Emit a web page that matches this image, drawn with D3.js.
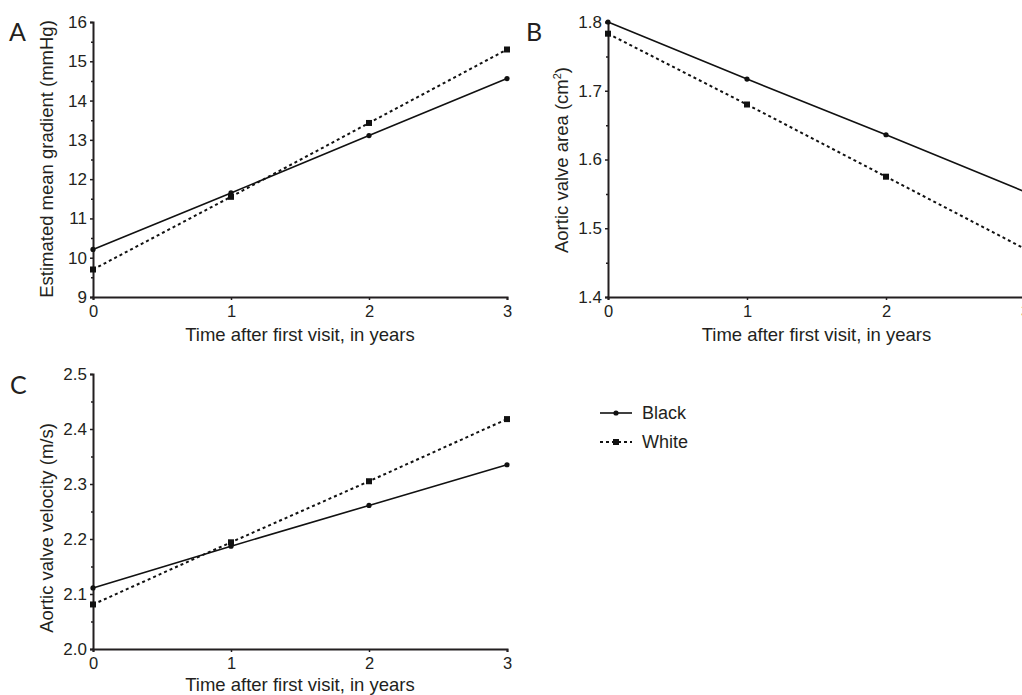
<!DOCTYPE html>
<html lang="en">
<head>
    <meta charset="UTF-8">
    <title>Aortic valve progression by race</title>
    <style>
        body { margin: 0; background: #fff; }
        svg { display: block; }
        .tick text, .axis_title, .legend_text {
            font-family: "Liberation Sans", Arial, Helvetica, sans-serif;
            fill: #231f20;
        }
        .panel_letter {
            font-family: Lato, "Open Sans", sans-serif;
            font-size: 25px;
            fill: #231f20;
        }
    </style>
    <script src="https://cdn.jsdelivr.net/npm/d3@7"></script>
</head>
<body>
<svg id="chart" width="1022" height="695"></svg>

<script>
    // values
    const years = [0, 1, 2, 3];
    const xTicks = [0, 1, 2, 3];

    const gradientBlack = [10.21, 11.65, 13.11, 14.56];
    const gradientWhite = [9.70, 11.55, 13.43, 15.30];
    const gradientTicks = [9, 10, 11, 12, 13, 14, 15, 16];

    const areaBlack = [1.800, 1.717, 1.636, 1.553];
    const areaWhite = [1.783, 1.680, 1.575, 1.470];
    const areaTicks = [1.4, 1.5, 1.6, 1.7, 1.8];

    const velocityBlack = [2.111, 2.187, 2.261, 2.335];
    const velocityWhite = [2.081, 2.194, 2.305, 2.418];
    const velocityTicks = [2.0, 2.1, 2.2, 2.3, 2.4, 2.5];

    const seriesNames = ["Black", "White"];
    const xTitle = "Time after first visit, in years";

    let svg = d3.select("#chart");

    // panel boxes (pixel layout)
    const panels = [
        {letter: "A", lx: 9, ly: 41, left: 93, right: 507, top: 22, bottom: 297, titleGap: 44,
            domain: [9, 16], ticks: gradientTicks, fmt: d3.format("d"),
            black: gradientBlack, white: gradientWhite,
            ytitle: ["Estimated mean gradient (mmHg)"], ytitleY: 159},
        {letter: "B", lx: 526, ly: 41, left: 608, right: 1025, top: 22, bottom: 297, titleGap: 44,
            domain: [1.4, 1.8], ticks: areaTicks, fmt: d3.format(".1f"),
            black: areaBlack, white: areaWhite,
            ytitle: ["Aortic valve area (cm", "2", ")"], ytitleY: 160},
        {letter: "C", lx: 10, ly: 394, left: 93, right: 507, top: 374, bottom: 649, titleGap: 42,
            domain: [2.0, 2.5], ticks: velocityTicks, fmt: d3.format(".1f"),
            black: velocityBlack, white: velocityWhite,
            ytitle: ["Aortic valve velocity (m/s)"], ytitleY: 528}
    ];

    function drawPanel(p) {
        const g = svg.append("g");
        const x = d3.scaleLinear().domain([0, 3]).range([p.left, p.right]);
        const y = d3.scaleLinear().domain(p.domain).range([p.bottom, p.top]);

        // minor ticks at half steps
        const step = p.ticks[1] - p.ticks[0];
        const minor = p.ticks.slice(0, -1).map(function (d) { return d + step / 2; });
        g.append("g")
            .attr("transform", `translate(${p.left},0)`)
            .call(d3.axisLeft(y).tickValues(minor).tickSize(2).tickFormat(""))
            .call(function (a) { a.select(".domain").remove(); })
            .selectAll("line").attr("stroke", "#231f20").attr("stroke-width", 1.5);

        const yAxis = g.append("g")
            .attr("transform", `translate(${p.left},0)`)
            .call(d3.axisLeft(y).tickValues(p.ticks).tickSize(3).tickPadding(3).tickFormat(p.fmt));
        yAxis.select(".domain").attr("stroke", "#231f20").attr("stroke-width", 2);
        yAxis.selectAll("line").attr("stroke", "#231f20").attr("stroke-width", 1.5);
        yAxis.selectAll("text").attr("font-size", 17);

        const xAxis = g.append("g")
            .attr("transform", `translate(0,${p.bottom})`)
            .call(d3.axisBottom(x).tickValues(xTicks).tickSize(3).tickPadding(5).tickFormat(d3.format("d")));
        xAxis.select(".domain").attr("stroke", "#231f20").attr("stroke-width", 2);
        xAxis.selectAll("line").attr("stroke", "#231f20").attr("stroke-width", 1.5);
        xAxis.selectAll("text").attr("font-size", 16.5);

        g.append("text").attr("class", "axis_title")
            .attr("x", (p.left + p.right) / 2).attr("y", p.bottom + p.titleGap)
            .attr("text-anchor", "middle").attr("font-size", 18.5)
            .text(xTitle);

        const yt = g.append("text").attr("class", "axis_title")
            .attr("transform", `translate(${p.left - 40},${p.ytitleY})rotate(-90)`)
            .attr("text-anchor", "middle").attr("font-size", 18.5);
        yt.append("tspan").text(p.ytitle[0]);
        if (p.ytitle.length > 1) {
            yt.append("tspan").attr("dy", -7).attr("font-size", 11).text(p.ytitle[1]);
            yt.append("tspan").attr("dy", 7).text(p.ytitle[2]);
        }

        g.append("text").attr("class", "panel_letter")
            .attr("x", p.lx).attr("y", p.ly).text(p.letter);

        const line = d3.line()
            .x(function (d, i) { return x(years[i]); })
            .y(function (d) { return y(d); });

        g.append("path").datum(p.black)
            .attr("fill", "none").attr("stroke", "#111").attr("stroke-width", 1.6)
            .attr("d", line);
        g.append("path").datum(p.white)
            .attr("fill", "none").attr("stroke", "#111").attr("stroke-width", 2)
            .attr("stroke-dasharray", "3,3")
            .attr("d", line);

        g.selectAll(".dotB").data(p.black).enter().append("circle")
            .attr("cx", function (d, i) { return x(years[i]); })
            .attr("cy", function (d) { return y(d); })
            .attr("r", 2.6).attr("fill", "#111");
        g.selectAll(".dotW").data(p.white).enter().append("rect")
            .attr("x", function (d, i) { return x(years[i]) - 3; })
            .attr("y", function (d) { return y(d) - 3; })
            .attr("width", 6).attr("height", 6).attr("fill", "#111");
    }

    panels.forEach(drawPanel);

    // legend
    const legend = svg.append("g").attr("transform", "translate(600,413)")
        .selectAll("g").data(seriesNames).enter().append("g")
        .attr("transform", function (d, i) { return `translate(0,${i * 29})`; });
    legend.append("line")
        .attr("x1", 0).attr("x2", 32).attr("y1", 0).attr("y2", 0)
        .attr("stroke", "#111")
        .attr("stroke-width", function (d, i) { return i === 0 ? 1.6 : 2; })
        .attr("stroke-dasharray", function (d, i) { return i === 0 ? null : "3,3"; });
    legend.append(function (d, i) {
        const el = document.createElementNS("http://www.w3.org/2000/svg", i === 0 ? "circle" : "rect");
        return el;
    })
        .attr("cx", 16).attr("cy", 0).attr("r", 2.6)
        .attr("x", 13).attr("y", -3).attr("width", 6).attr("height", 6)
        .attr("fill", "#111");
    legend.append("text").attr("class", "legend_text")
        .attr("x", 42).attr("dy", "0.35em").attr("font-size", 18)
        .text(function (d) { return d; });
</script>
</body>
</html>
